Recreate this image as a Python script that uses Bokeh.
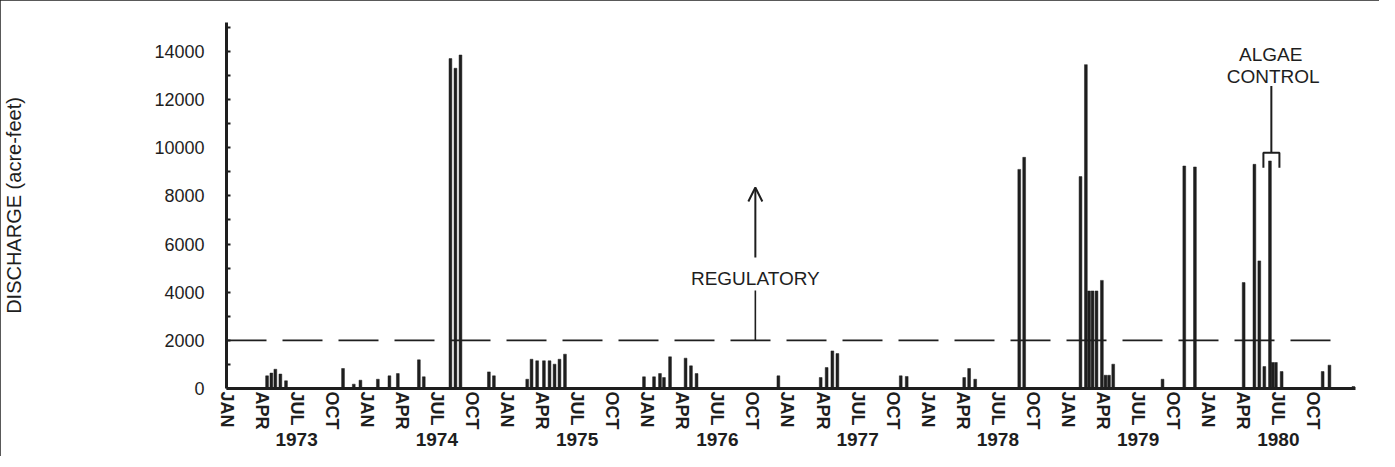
from bokeh.plotting import figure
from bokeh.models import Range1d, LinearAxis, FixedTicker, Arrow, OpenHead, Label
from bokeh.embed import file_html
from bokeh.resources import INLINE

# months since JAN 1973 (fractional) and discharge (acre-feet)
bar_month = [3.47, 3.84, 4.18, 4.61, 5.09, 9.97, 10.89, 11.46, 12.95, 13.94, 14.66, 16.46, 16.88,
             19.16, 19.59, 20.02, 22.45, 22.88, 25.73, 26.10, 26.58, 27.16, 27.64, 28.07, 28.49, 28.96,
             35.72, 36.58, 37.09, 37.43, 37.95, 39.28, 39.74, 40.22, 47.22,
             50.84, 51.35, 51.84, 52.27, 57.69, 58.20, 63.12, 63.54, 64.06,
             67.83, 68.25, 73.07, 73.53, 73.80, 74.10, 74.44, 74.90, 75.21, 75.51, 75.87,
             80.09, 81.95, 82.86, 87.03, 87.95, 88.37, 88.80, 89.28, 89.51, 89.79, 90.28,
             93.79, 94.37, 96.42]
discharge = [525, 640, 800, 600, 320, 830, 180, 345, 385, 525, 620, 1190, 485,
             13700, 13300, 13850, 690, 525, 385, 1215, 1150, 1150, 1150, 1010, 1215, 1425,
             485, 485, 620, 455, 1315, 1260, 940, 620, 525,
             455, 870, 1560, 1450, 525, 500, 455, 830, 385,
             9100, 9600, 8800, 13450, 4050, 4050, 4050, 4490, 550, 550, 1010,
             385, 9240, 9200, 4400, 9310, 5300, 910, 9450, 1080, 1080, 705,
             705, 970, 80]

regulatory_level = 2000

month_ticks = list(range(0, 94, 3))
month_names = ["JAN", "APR", "JUL", "OCT"]
month_labels = [month_names[i % 4] for i in range(len(month_ticks))]

year_ticks = [6, 18, 30, 42, 54, 66, 78, 90]
year_labels = ["1973", "1974", "1975", "1976", "1977", "1978", "1979", "1980"]

y_ticks = [0, 2000, 4000, 6000, 8000, 10000, 12000, 14000]
y_minor = [1000, 3000, 5000, 7000, 9000, 11000, 13000, 15000]

INK = "#1e1e1e"
FONT = "Liberation Sans"

p = figure(width=1379, height=456, output_backend="svg", toolbar_location=None,
           x_range=Range1d(0, 96.6), y_range=Range1d(0, 15200),
           x_axis_location=None,
           min_border_left=226, min_border_right=24, min_border_top=22, min_border_bottom=68)
p.outline_line_color = None
p.grid.visible = False
p.background_fill_color = "white"
p.border_fill_color = "white"
p.styles = {"outline": "2px solid #222", "outline-offset": "-2px"}

# y axis
ya = p.yaxis[0]
ya.ticker = FixedTicker(ticks=y_ticks, minor_ticks=y_minor)
ya.axis_line_width = 3
ya.axis_line_color = INK
ya.major_tick_in = 4
ya.major_tick_out = 0
ya.minor_tick_in = 4
ya.minor_tick_out = 0
ya.major_tick_line_color = INK
ya.minor_tick_line_color = INK
ya.major_tick_line_width = 2
ya.minor_tick_line_width = 2
ya.major_label_standoff = 22
ya.major_label_text_font = FONT
ya.major_label_text_font_size = "18px"
ya.major_label_text_color = INK
ya.axis_label = "DISCHARGE (acre-feet)"
ya.axis_label_text_font = FONT
ya.axis_label_text_font_style = "normal"
ya.axis_label_text_font_size = "20px"
ya.axis_label_text_color = INK
ya.axis_label_standoff = 126

# month axis
ma = LinearAxis(ticker=FixedTicker(ticks=month_ticks, minor_ticks=[]),
                major_label_overrides={t: l for t, l in zip(month_ticks, month_labels)})
ma.axis_line_width = 3
ma.axis_line_color = INK
ma.major_tick_in = 0
ma.major_tick_out = 0
ma.minor_tick_in = 0
ma.minor_tick_out = 0
ma.major_label_orientation = "vertical"
ma.major_label_standoff = 3
ma.major_label_text_font = FONT
ma.major_label_text_font_style = "bold"
ma.major_label_text_font_size = "18px"
ma.major_label_text_color = INK
p.add_layout(ma, "below")

# year axis
yr = LinearAxis(ticker=FixedTicker(ticks=year_ticks, minor_ticks=[]),
                major_label_overrides={t: l for t, l in zip(year_ticks, year_labels)})
yr.axis_line_color = None
yr.major_tick_line_color = None
yr.minor_tick_line_color = None
yr.major_tick_in = 0
yr.major_tick_out = 0
yr.major_label_standoff = 0
yr.major_label_text_font = FONT
yr.major_label_text_font_style = "bold"
yr.major_label_text_font_size = "19px"
yr.major_label_text_color = INK
p.add_layout(yr, "below")

# bars
p.vbar(x=bar_month, top=discharge, width=0.24, bottom=0, fill_color=INK, line_color=INK, line_width=0.5)

# regulatory threshold
p.line(x=[0, 95.6], y=[regulatory_level, regulatory_level], line_dash="40 16",
       line_width=1.6, line_color=INK)
p.segment(x0=[45.25], y0=[regulatory_level], x1=[45.25], y1=[4070], line_width=1.6, line_color=INK)
p.add_layout(Arrow(end=OpenHead(size=14, line_width=2, line_color=INK),
                   x_start=45.25, y_start=5440, x_end=45.25, y_end=8350,
                   line_width=2, line_color=INK))
p.add_layout(Label(x=45.25, y=4560, text="REGULATORY", text_align="center",
                   text_baseline="middle", text_font=FONT, text_font_size="19px",
                   text_color=INK))

# algae control bracket
p.line(x=[88.72, 88.72, 90.09, 90.09], y=[9170, 9790, 9790, 9170], line_width=2, line_color=INK)
p.segment(x0=[89.4], y0=[9790], x1=[89.4], y1=[12560], line_width=2, line_color=INK)
p.add_layout(Label(x=89.35, y=13870, text="ALGAE", text_align="center",
                   text_baseline="middle", text_font=FONT, text_font_size="19px",
                   text_color=INK))
p.add_layout(Label(x=89.55, y=12975, text="CONTROL", text_align="center",
                   text_baseline="middle", text_font=FONT, text_font_size="19px",
                   text_color=INK))

open("out.html", "w").write(file_html(p, INLINE))
